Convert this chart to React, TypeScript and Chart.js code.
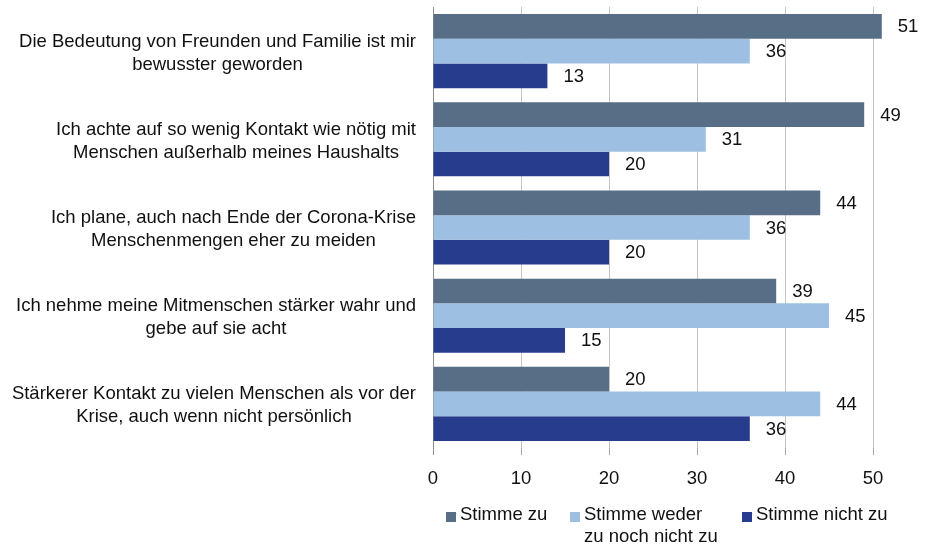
import React, { useEffect, useRef } from "react";
import { Chart, registerables } from "chart.js";

Chart.register(...registerables);

const categories: string[][] = [
  ["Die Bedeutung von Freunden und Familie ist mir", "bewusster geworden"],
  ["Ich achte auf so wenig Kontakt wie nötig mit", "Menschen außerhalb meines Haushalts"],
  ["Ich plane, auch nach Ende der Corona-Krise", "Menschenmengen eher zu meiden"],
  ["Ich nehme meine Mitmenschen stärker wahr und", "gebe auf sie acht"],
  ["Stärkerer Kontakt zu vielen Menschen als vor der", "Krise, auch wenn nicht persönlich"],
];

const seriesNames = ["Stimme zu", "Stimme weder zu noch nicht zu", "Stimme nicht zu"];
const legendLines: string[][] = [["Stimme zu"], ["Stimme weder", "zu noch nicht zu"], ["Stimme nicht zu"]];

const stimmeZu = [51, 49, 44, 39, 20];
const stimmeWeder = [36, 31, 36, 45, 44];
const stimmeNicht = [13, 20, 20, 15, 36];

const xTicks = [0, 10, 20, 30, 40, 50];
const xMax = 55;

const colors = ["#586e87", "#9dc0e2", "#283c8d"];

const FF = "'Liberation Sans', Arial, sans-serif";
const FS = 18.5;
const LH = 23;

const drawPlugin = {
  id: "customText",
  afterDraw(chart: any) {
    const ctx = chart.ctx as CanvasRenderingContext2D;
    const yScale = chart.scales.y;
    ctx.save();
    ctx.font = `${FS}px ${FF}`;
    ctx.fillStyle = "#111";
    ctx.textBaseline = "middle";

    // category labels (each label centered on its own widest line, right edge near axis)
    ctx.textAlign = "center";
    categories.forEach((lines, i) => {
      const cy = yScale.getPixelForValue(i) + 2;
      const w = Math.max(...lines.map((l) => ctx.measureText(l).width));
      const cx = 416 - w / 2;
      lines.forEach((l, j) => {
        ctx.fillText(l, cx, cy + (j - (lines.length - 1) / 2) * LH);
      });
    });

    // data labels
    ctx.textAlign = "left";
    chart.data.datasets.forEach((ds: any, di: number) => {
      const meta = chart.getDatasetMeta(di);
      meta.data.forEach((el: any, k: number) => {
        ctx.fillText(String(ds.data[k]), el.x + 16, el.y + 1);
      });
    });

    // legend
    const legendX = [446, 570, 742];
    const legendY = 515;
    legendLines.forEach((lines, i) => {
      ctx.fillStyle = colors[i];
      ctx.fillRect(legendX[i], legendY - 3, 10, 10);
      ctx.fillStyle = "#111";
      lines.forEach((l, j) => {
        ctx.fillText(l, legendX[i] + 14, legendY + j * 22);
      });
    });
    ctx.restore();
  },
};

export default function App() {
  const ref = useRef<HTMLCanvasElement | null>(null);

  useEffect(() => {
    document.body.style.margin = "0";
    if (!ref.current) return;
    const chart = new Chart(ref.current, {
      type: "bar",
      data: {
        labels: categories.map((c) => c.join(" ")),
        datasets: [
          { label: seriesNames[0], data: stimmeZu, backgroundColor: colors[0] },
          { label: seriesNames[1], data: stimmeWeder, backgroundColor: colors[1] },
          { label: seriesNames[2], data: stimmeNicht, backgroundColor: colors[2] },
        ].map((d) => ({ ...d, barPercentage: 1, categoryPercentage: 0.84, borderWidth: 0 })),
      },
      options: {
        indexAxis: "y",
        responsive: false,
        animation: false,
        devicePixelRatio: 1,
        layout: { padding: { top: 7, right: 17, left: 0, bottom: 0 } },
        plugins: {
          legend: { display: false },
          tooltip: { enabled: false },
        },
        scales: {
          x: {
            min: 0,
            max: xMax,
            afterBuildTicks: (scale: any) => {
              scale.ticks = xTicks.map((v) => ({ value: v }));
            },
            afterFit: (scale: any) => {
              scale.height = 97;
            },
            grid: {
              color: (c: any) => (c.tick && c.tick.value === 0 ? "#8c8c8c" : "#c4c4c4"),
              tickColor: (c: any) => (c.tick && c.tick.value === 0 ? "#8c8c8c" : "#a8a8a8"),
              tickLength: 7,
              lineWidth: 1,
            },
            border: { display: false },
            ticks: {
              color: "#111",
              font: { family: FF, size: FS },
              padding: 13,
              maxRotation: 0,
            },
          },
          y: {
            afterFit: (scale: any) => {
              scale.width = 433;
            },
            ticks: { display: false },
            grid: { display: false },
            border: { display: true, color: "#8c8c8c", width: 1 },
          },
        },
      },
      plugins: [drawPlugin],
    } as any);
    return () => chart.destroy();
  }, []);

  return (
    <div style={{ width: 934, height: 545 }}>
      <canvas ref={ref} width={934} height={545} style={{ display: "block" }} />
    </div>
  );
}
